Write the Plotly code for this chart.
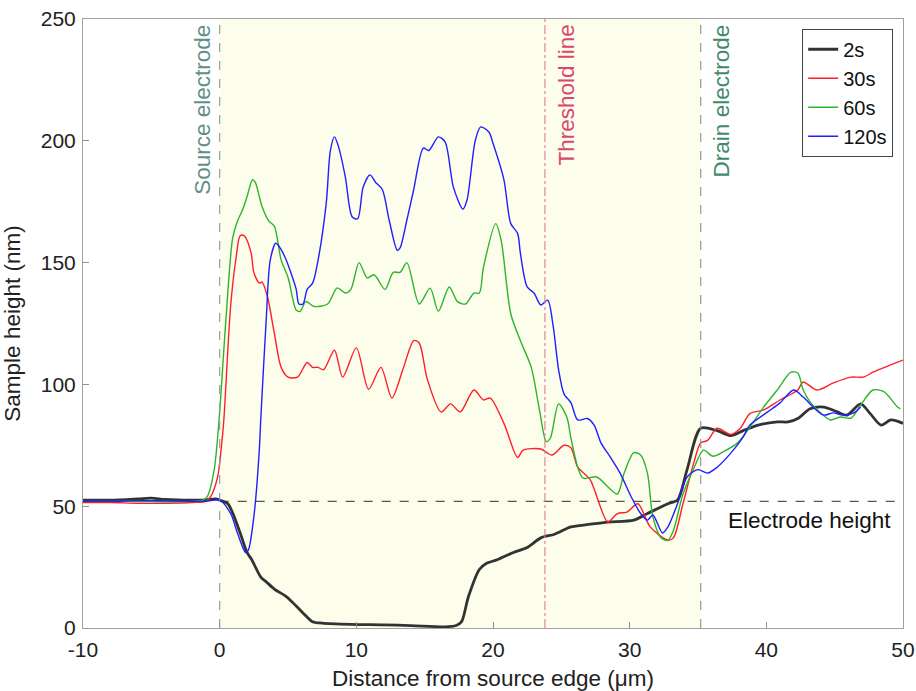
import plotly.graph_objects as go

# ---------------- data ----------------
x_2s = [-10, -8, -6, -5, -4, -2, -1, -0.3, 0, 0.6, 1.5, 2.0, 2.35, 3.0, 3.4, 4.0, 4.9, 5.6, 6.3, 6.8, 7.5, 9.6, 12, 14, 16.5, 17.3, 17.7, 18.2, 19, 19.5, 20.3, 21.5, 22.5, 23.5, 24.5, 25.7, 27, 28.4, 30.3, 31.3, 32.8, 33.5, 34.2, 35.2, 36.4, 37.4, 38.3, 39.4, 40.8, 41.6, 42.3, 43.2, 44.2, 45.2, 45.9, 46.9, 47.6, 48.4, 49.1, 50]
y_2s = [52.5, 52.5, 53, 53.3, 52.8, 52.5, 52.6, 53, 52.5, 51, 39, 31, 28, 21, 19, 16, 12.8, 9, 5, 2.6, 2, 1.5, 1.3, 1, 0.5, 1, 2.6, 12.8, 24, 26.5, 28, 31, 33, 37, 38.5, 41.5, 42.5, 43.5, 44.3, 47, 51, 52.5, 65, 82, 81, 79, 81, 83.3, 84.6, 84.6, 86, 90, 90.7, 88.7, 87.4, 92, 88, 83.3, 85.4, 84]

x_30s = [-10, -8, -6, -4, -2, -1, -0.65, -0.15, 0.1, 0.3, 0.8, 1.2, 1.5, 1.8, 2.3, 2.5, 2.9, 3.1, 3.5, 4.0, 4.5, 5.0, 5.7, 6.4, 6.8, 7.2, 7.6, 8.4, 9.0, 10.0, 10.9, 11.8, 12.6, 13.4, 14.2, 14.6, 15.2, 16.2, 16.9, 17.6, 18.6, 19.3, 19.8, 20.8, 21.8, 22.2, 23.5, 24.3, 25.2, 25.7, 26.2, 27.1, 28.4, 29.1, 29.8, 30.6, 31.5, 32.8, 33.2, 33.9, 34.7, 35.2, 35.7, 36.4, 37.4, 38.1, 38.8, 39.8, 41.0, 42.3, 42.7, 43.7, 44.9, 46.2, 47.1, 47.8, 49.1, 50]
y_30s = [51.5, 51.5, 51.2, 51.2, 51.5, 52, 54, 62, 73, 85, 132, 152, 161, 161, 154, 146, 141.6, 142, 136, 121, 107, 103, 103, 109, 107, 107, 106, 114, 103, 115, 98, 107, 94.4, 106, 118, 117, 102, 88.7, 92, 88.7, 97.7, 93.6, 94.4, 84, 70, 73, 73.5, 71, 75, 74, 66, 61, 43.5, 47, 47.6, 51, 41.5, 36, 37, 51, 68, 76, 77, 82, 79.5, 82, 88, 89.5, 93.6, 97.7, 101, 97.7, 100.6, 103, 103, 105, 108, 110]

x_60s = [-10, -8, -6, -4, -2, -1.2, -0.9, -0.4, -0.05, 0.45, 0.95, 1.3, 1.7, 2.0, 2.4, 2.6, 3.1, 3.6, 4.0, 4.5, 5.0, 5.6, 5.9, 6.3, 6.9, 7.9, 8.6, 9.2, 9.6, 10.2, 10.8, 11.3, 12.1, 12.7, 13.2, 13.7, 14.6, 15.4, 16.0, 16.8, 17.4, 18.0, 18.6, 19.0, 19.3, 20.2, 20.6, 21.3, 22.0, 22.8, 23.4, 23.9, 24.2, 24.8, 25.4, 25.7, 26.2, 26.6, 27.6, 28.4, 29.1, 29.6, 30.3, 30.8, 31.3, 31.7, 32.3, 32.8, 33.2, 33.9, 34.7, 35.4, 36.1, 36.9, 37.9, 38.8, 39.8, 40.8, 41.8, 42.3, 42.7, 43.2, 43.9, 44.7, 45.4, 46.2, 46.9, 47.8, 48.6, 49.6, 49.8]
y_60s = [52, 52, 52, 51.8, 52, 52.5, 54, 65, 85, 126, 160, 167, 172, 177, 184, 183, 173, 167, 165, 151, 144, 130.5, 130, 134, 132, 133, 139.6, 137.5, 139, 150, 143.7, 145, 139, 146, 146, 150, 133, 139.5, 130, 140, 134, 133, 137.5, 137.5, 148, 166, 159, 129, 118, 107, 89.5, 76.5, 78, 92, 86.6, 78, 66, 61.5, 62, 58, 55, 63.6, 72, 71, 63.6, 45.6, 37, 36, 40, 55, 65.6, 73, 70.5, 72.5, 76, 82.5, 90.7, 97.7, 105, 104.7, 97.7, 92.8, 88.7, 85.4, 86.6, 86.2, 91.5, 97.7, 97, 90.7, 90]

x_120s = [-10, -8, -6, -4, -2, -1, 0, 0.8, 1.3, 1.9, 2.1, 2.5, 2.9, 3.0, 3.4, 3.7, 4.1, 4.3, 4.8, 5.2, 5.6, 5.8, 6.1, 6.4, 6.8, 7.2, 7.8, 8.1, 8.4, 8.7, 9.2, 9.7, 10.1, 10.5, 11.0, 11.4, 11.9, 12.4, 13.0, 13.2, 13.7, 14.2, 14.9, 15.3, 16.0, 16.5, 17.1, 17.8, 18.1, 18.7, 19.1, 19.7, 20.0, 20.8, 21.3, 21.8, 22.0, 22.5, 23.0, 23.5, 24.0, 24.4, 24.8, 25.2, 25.7, 26.2, 26.9, 27.4, 27.9, 28.6, 29.3, 30.1, 30.8, 31.3, 31.7, 32.4, 32.8, 33.5, 34.2, 35.0, 35.7, 36.4, 37.4, 38.3, 38.8, 40.1, 41.0, 42.0, 42.7, 43.5, 44.2, 44.9, 45.6, 46.4, 46.9]
y_120s = [52, 52, 52.3, 52.2, 52, 52, 52.5, 47, 39, 31, 32, 45.6, 73, 85, 126, 151, 158, 157, 152, 146, 139, 133, 133, 139, 141.6, 151, 174.5, 196, 201.6, 197.5, 185, 168.7, 168, 181, 186, 183, 180, 167.5, 155, 156, 167.5, 180, 197, 196, 201.6, 199.5, 181, 172, 175.7, 200, 205.7, 203.6, 199, 184, 166, 162, 154, 140, 137.5, 132.6, 134.6, 124, 106, 96, 92.5, 85.4, 86, 83.3, 76, 70, 63.6, 54, 47, 44.3, 46.4, 39, 41.5, 51, 62, 65, 63.6, 66, 71.8, 78.4, 83.3, 88.7, 92.4, 97.7, 94.8, 90.3, 87.4, 88.3, 87.4, 88.3, 90.7]

series_names = ["2s", "30s", "60s", "120s"]
source_x = 0.0
threshold_x = 23.8
drain_x = 35.2
electrode_height = 52
x_ticks = [-10, 0, 10, 20, 30, 40, 50]
x_tick_labels = ["-10", "0", "10", "20", "30", "40", "50"]
y_ticks = [0, 50, 100, 150, 200, 250]

# ---------------- figure ----------------
FONT = "Liberation Sans, Arial, Helvetica, sans-serif"
fig = go.Figure()

styles = [
    ("#333333", 2.8),
    ("#ff1f2a", 1.4),
    ("#2cb52c", 1.4),
    ("#1f1fff", 1.4),
]
for name, xs, ys, (col, w) in zip(series_names,
                                 [x_2s, x_30s, x_60s, x_120s],
                                 [y_2s, y_30s, y_60s, y_120s], styles):
    fig.add_trace(go.Scatter(x=xs, y=ys, mode="lines", name=name,
                             line=dict(color=col, width=w, shape="spline", smoothing=0.8)))

# shaded channel region
fig.add_shape(type="rect", xref="x", yref="y", x0=source_x, x1=drain_x, y0=0, y1=250,
              fillcolor="#fdfdec", line=dict(width=0), layer="below")
# vertical lines
fig.add_shape(type="line", xref="x", yref="y", x0=source_x, x1=source_x, y0=0, y1=250,
              line=dict(color="#8a9a9a", width=1.1, dash="dash"))
fig.add_shape(type="line", xref="x", yref="y", x0=drain_x, x1=drain_x, y0=0, y1=250,
              line=dict(color="#8a9090", width=1.1, dash="dash"))
fig.add_shape(type="line", xref="x", yref="y", x0=threshold_x, x1=threshold_x, y0=0, y1=250,
              line=dict(color="#e07a90", width=1.1, dash="dashdot"))
# electrode height
fig.add_shape(type="line", xref="x", yref="y", x0=source_x, x1=50, y0=electrode_height, y1=electrode_height,
              line=dict(color="#555555", width=1.3, dash="dash"), layer="below")

ANN = 22.5
# annotations
fig.add_annotation(x=source_x, y=248.5, xref="x", yref="y", text="Source electrode",
                   textangle=-90, showarrow=False, xanchor="right", yanchor="top", xshift=-3,
                   font=dict(family=FONT, size=ANN, color="#5f8f8a"))
fig.add_annotation(x=threshold_x, y=248.5, xref="x", yref="y", text="Threshold line",
                   textangle=-90, showarrow=False, xanchor="left", yanchor="top", xshift=7,
                   font=dict(family=FONT, size=ANN, color="#d8486e"))
fig.add_annotation(x=drain_x, y=248.5, xref="x", yref="y", text="Drain electrode",
                   textangle=-90, showarrow=False, xanchor="left", yanchor="top", xshift=6,
                   font=dict(family=FONT, size=ANN, color="#3f8a6c"))
fig.add_annotation(x=49.3, y=electrode_height, xref="x", yref="y", text="Electrode height",
                   showarrow=False, xanchor="right", yanchor="top", yshift=-5,
                   font=dict(family=FONT, size=ANN, color="#111111"))

axis_common = dict(showline=True, linecolor="#a0a0a0", linewidth=1, mirror=True,
                   ticks="inside", ticklen=6, tickcolor="#909090", showgrid=False,
                   zeroline=False, automargin=False, ticklabeloverflow="allow",
                   tickfont=dict(family=FONT, size=21, color="#222222"))
fig.update_xaxes(range=[-10, 50], tickvals=x_ticks, ticktext=x_tick_labels, **axis_common,
                 ticklabelstandoff=3,
                 title=dict(text="Distance from source edge (μm)",
                            font=dict(family=FONT, size=22.5, color="#222222"), standoff=15))
fig.update_yaxes(range=[0, 250], tickvals=y_ticks, **axis_common,
                 ticklabelstandoff=2,
                 title=dict(text="Sample height (nm)",
                            font=dict(family=FONT, size=22.5, color="#222222"), standoff=13))

fig.update_layout(
    width=916, height=691,
    margin=dict(l=83, r=13, t=19, b=63),
    paper_bgcolor="white", plot_bgcolor="white",
    font=dict(family=FONT),
    legend=dict(x=0.988, y=0.984, xanchor="right", yanchor="top",
                bgcolor="white", bordercolor="#444444", borderwidth=1,
                font=dict(family=FONT, size=20, color="#111111"),
                tracegroupgap=0, itemwidth=30),
    showlegend=True,
)

# remove the default 8px page margin so the figure fills the window exactly
fig.write_html("out.html", config={"displayModeBar": False},
               post_script="document.body.style.margin='0px';")
